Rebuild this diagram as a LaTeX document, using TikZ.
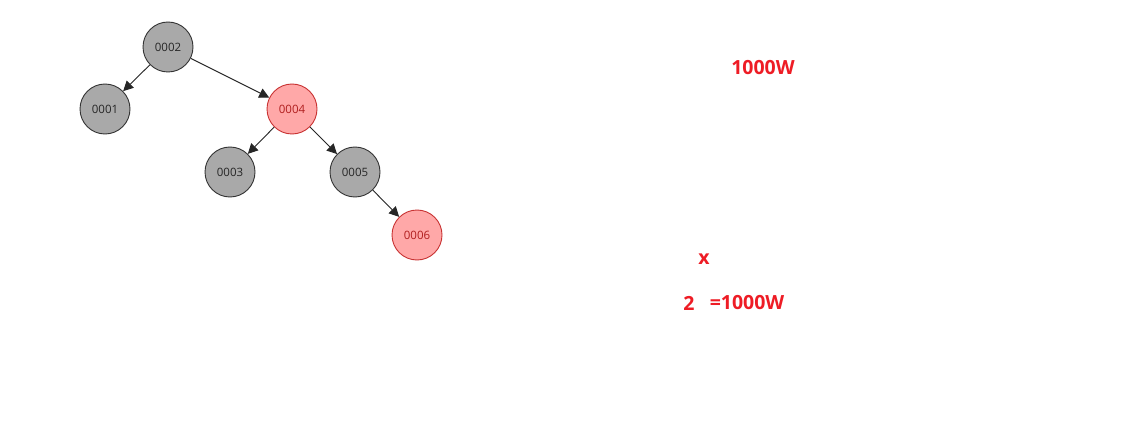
\documentclass[tikz,border=0pt]{standalone}
\usepackage{fontspec}
\setmainfont{Open Sans}
\usetikzlibrary{arrows.meta}
\definecolor{gfill}{HTML}{A9A9A9}
\definecolor{gline}{HTML}{333333}
\definecolor{rfill}{HTML}{FFA8A8}
\definecolor{rline}{HTML}{C83232}
\definecolor{rtext}{HTML}{B01E1E}
\definecolor{lbl}{HTML}{EE1C25}
\begin{document}
\begin{tikzpicture}[x=1pt,y=-1pt,
  blk/.style={circle,draw=gline,fill=gfill,line width=0.9pt,minimum size=50pt,inner sep=0pt,font=\fontsize{11.5}{13}\selectfont,text=black!85},
  red/.style={circle,draw=rline,fill=rfill,line width=0.9pt,minimum size=50pt,inner sep=0pt,font=\fontsize{11.5}{13}\selectfont,text=rtext},
  edge/.style={-{Triangle[length=10pt,width=10pt]},line width=0.9pt,draw=black!85},
  lab/.style={text=lbl,font=\fontsize{19.5}{22}\selectfont\bfseries,inner sep=0pt}]
\useasboundingbox[fill=white] (0,0) rectangle (1130,441);
\node[blk] (n2) at (168,47) {0002};
\node[blk] (n1) at (105,109) {0001};
\node[red] (n4) at (292,109) {0004};
\node[blk] (n3) at (230,172) {0003};
\node[blk] (n5) at (355,172) {0005};
\node[red] (n6) at (417,235) {0006};
\draw[edge] (n2) -- (n1);
\draw[edge] (n2) -- (n4);
\draw[edge] (n4) -- (n3);
\draw[edge] (n4) -- (n5);
\draw[edge] (n5) -- (n6);
\node[lab] (t1) at (763,68) {1000W};
\node[lab] (t2) at (704,259) {x};
\node[lab] (t3) at (689,303) {2};
\node[lab] (t4) at (747,303) {=1000W};
\end{tikzpicture}
\end{document}
